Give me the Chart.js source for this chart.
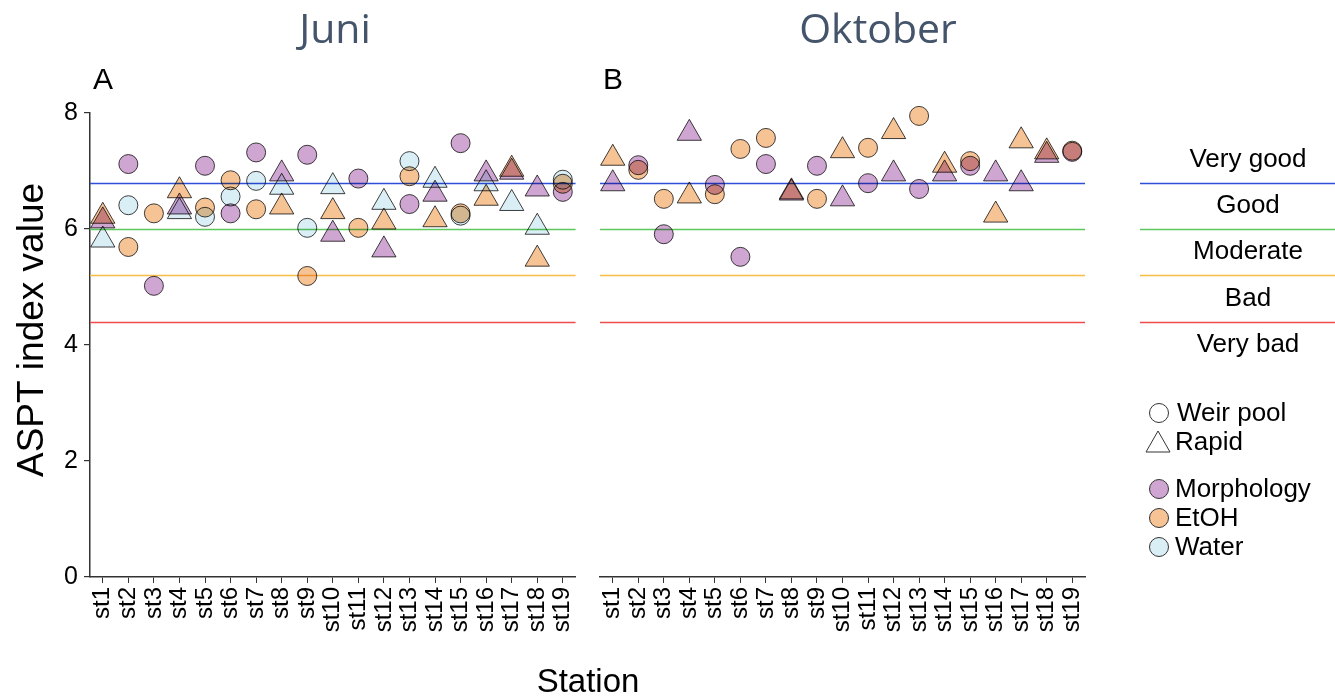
<!DOCTYPE html>
<html>
<head>
<meta charset="utf-8">
<title>ASPT index value per station</title>
<script src="https://cdn.jsdelivr.net/npm/chart.js@4.4.1/dist/chart.umd.min.js"></script>
<style>
  html, body { margin: 0; padding: 0; background: #fff; }
  #wrap { position: relative; width: 1335px; height: 697px; overflow: hidden; }
  #cA { position: absolute; left: 0; top: 0; }
  #cB { position: absolute; left: 585px; top: 0; }
  #station { position: absolute; left: 0; width: 1176px; top: 662px; line-height: 40px;
             text-align: center; font: 33px 'Liberation Sans', Arial, sans-serif; color: #000; }
</style>
</head>
<body>
<div id="wrap">
  <canvas id="cA" width="596" height="697"></canvas>
  <canvas id="cB" width="750" height="697"></canvas>
  <div id="station">Station</div>
</div>
<script>
// Stations along the x axis
const stations = ['st1','st2','st3','st4','st5','st6','st7','st8','st9','st10',
                  'st11','st12','st13','st14','st15','st16','st17','st18','st19'];

// y axis ticks
const yTicks = [0, 2, 4, 6, 8];

// Quality class boundaries and labels
const thresholds = [6.8, 6.0, 5.2, 4.4];
const thresholdColors = ['#2f4fd8', '#5cc85c', '#f7bd45', '#ef4b4b'];
const classLabels = ['Very good', 'Good', 'Moderate', 'Bad', 'Very bad'];
const classLabelValues = [7.2, 6.4, 5.6, 4.8, 4.0];

// Juni – weir pool (circles)
const juniWeirMorph = [null, 7.12, 5.02, null, 7.09, 6.27, 7.32, null, 7.28, null, 6.87, null, 6.43, null, 7.48, null, null, null, 6.64];
const juniWeirEtoh  = [null, 5.69, 6.27, null, 6.37, 6.84, 6.34, null, 5.19, null, 6.02, null, 6.91, null, 6.27, null, null, null, 6.78];
const juniWeirWater = [null, 6.41, null, null, 6.21, 6.56, 6.83, null, 6.02, null, null, null, 7.17, null, 6.23, null, null, null, 6.85];
// Juni – rapid (triangles)
const juniRapidMorph = [6.14, null, null, 6.38, null, null, null, 6.95, null, 5.91, null, 5.64, null, 6.60, null, 6.95, 6.98, 6.69, null];
const juniRapidEtoh  = [6.22, null, null, 6.66, null, null, null, 6.38, null, 6.30, null, 6.12, null, 6.16, null, 6.53, 7.03, 5.48, null];
const juniRapidWater = [5.81, null, null, 6.30, null, null, null, 6.72, null, 6.73, null, 6.46, null, 6.84, null, 6.78, 6.44, 6.03, null];

// Oktober – weir pool (circles)
const oktWeirMorph = [null, 7.10, 5.91, null, 6.76, 5.52, 7.12, null, 7.09, null, 6.79, null, 6.69, null, 7.09, null, null, null, 7.33];
const oktWeirEtoh  = [null, 7.02, 6.52, null, 6.60, 7.38, 7.57, null, 6.52, null, 7.40, null, 7.95, null, 7.17, null, null, null, 7.35];
// Oktober – rapid (triangles)
const oktRapidMorph = [6.78, null, null, 7.65, null, null, null, 6.62, null, 6.52, null, 6.95, null, 6.95, null, 6.95, 6.78, 7.27, null];
const oktRapidEtoh  = [7.22, null, null, 6.57, null, null, null, 6.64, null, 7.35, null, 7.68, null, 7.10, null, 6.24, 7.52, 7.33, null];

const FONT = "'Liberation Sans', Arial, sans-serif";
const TITLE_FONT = "'Open Sans', sans-serif";
const COLORS = { morph: '#cfa5d2', etoh: '#f6c395', water: '#daeef5' };
const EDGE = '#404040';

function series(label, data, color, shape) {
  return {
    label, data,
    showLine: false,
    pointStyle: shape,
    pointRadius: shape === 'triangle' ? 14 : 9.5,
    pointHoverRadius: shape === 'triangle' ? 14 : 9.5,
    pointBackgroundColor: color,
    pointBorderColor: EDGE,
    pointBorderWidth: 1,
    borderColor: EDGE,
    backgroundColor: color,
    clip: false
  };
}

// Threshold lines under the points, multiply blending for overlapping marks,
// and the panel texts / legend on top.
const decor = {
  id: 'decor',
  beforeDatasetsDraw(chart) {
    const { ctx, chartArea: a, scales: { y } } = chart;
    ctx.save();
    thresholds.forEach((v, i) => {
      const py = Math.round(y.getPixelForValue(v)) + 0.5;
      ctx.strokeStyle = thresholdColors[i];
      ctx.lineWidth = 1.5;
      ctx.beginPath();
      ctx.moveTo(a.left, py);
      ctx.lineTo(a.right, py);
      ctx.stroke();
    });
    ctx.restore();
    ctx.save();
    ctx.globalCompositeOperation = 'multiply';
  },
  afterDatasetsDraw(chart) {
    chart.ctx.restore();
  },
  afterDraw(chart, args, opts) {
    const { ctx, chartArea: a, scales: { y } } = chart;
    ctx.save();
    // month title
    ctx.fillStyle = '#44546a';
    ctx.font = '41px ' + TITLE_FONT;
    ctx.textAlign = 'center';
    ctx.textBaseline = 'alphabetic';
    ctx.fillText(opts.title, opts.titleX, 43);
    // panel letter
    ctx.fillStyle = '#000';
    ctx.font = '30px ' + FONT;
    ctx.textAlign = 'left';
    ctx.fillText(opts.letter, a.left + 3, 89);
    // y axis title
    if (opts.yTitle) {
      ctx.save();
      ctx.translate(33, 330);
      ctx.rotate(-Math.PI / 2);
      ctx.textAlign = 'center';
      ctx.textBaseline = 'middle';
      ctx.font = '37px ' + FONT;
      ctx.fillText(opts.yTitle, 0, 0);
      ctx.restore();
    }
    if (opts.legend) {
      const x0 = a.right + 55, x1 = chart.width;
      const cx = a.right + 163;
      thresholds.forEach((v, i) => {
        const py = Math.round(y.getPixelForValue(v)) + 0.5;
        ctx.strokeStyle = thresholdColors[i];
        ctx.lineWidth = 1.3;
        ctx.beginPath();
        ctx.moveTo(x0, py);
        ctx.lineTo(x1, py);
        ctx.stroke();
      });
      ctx.fillStyle = '#000';
      ctx.font = '26px ' + FONT;
      ctx.textAlign = 'center';
      ctx.textBaseline = 'middle';
      classLabels.forEach((t, i) => ctx.fillText(t, cx, y.getPixelForValue(classLabelValues[i])));

      // shape and method keys
      const mx = a.right + 74;
      const tx = a.right + 92;
      ctx.textAlign = 'left';
      ctx.font = '26px ' + FONT;
      ctx.strokeStyle = '#333';
      ctx.lineWidth = 1;
      const circle = (py, fill) => {
        ctx.beginPath();
        ctx.arc(mx, py, 9.5, 0, Math.PI * 2);
        ctx.fillStyle = fill;
        ctx.fill();
        ctx.stroke();
      };
      circle(413, '#fff');
      ctx.fillStyle = '#000';
      ctx.fillText('Weir pool', tx, 414);
      ctx.beginPath();
      ctx.moveTo(mx - 1, 431);
      ctx.lineTo(mx + 11, 452);
      ctx.lineTo(mx - 13, 452);
      ctx.closePath();
      ctx.fillStyle = '#fff';
      ctx.fill();
      ctx.stroke();
      ctx.fillStyle = '#000';
      ctx.fillText('Rapid', tx - 2, 443);
      [['Morphology', COLORS.morph, 489], ['EtOH', COLORS.etoh, 518], ['Water', COLORS.water, 547]]
        .forEach(([t, c, py]) => {
          circle(py, c);
          ctx.fillStyle = '#000';
          ctx.fillText(t, tx - 2, py + 1);
        });
    }
    ctx.restore();
  }
};

function makePanel(canvas, datasets, showY, pad, decorOpts) {
  return new Chart(canvas, {
    type: 'line',
    data: { labels: stations, datasets },
    plugins: [decor],
    options: {
      responsive: false,
      animation: false,
      events: [],
      layout: { padding: pad },
      plugins: { legend: { display: false }, tooltip: { enabled: false }, title: { display: false }, decor: decorOpts },
      scales: {
        x: {
          type: 'category',
          offset: true,
          afterFit(s) { s.height = 120; },
          ticks: { minRotation: 90, maxRotation: 90, autoSkip: false, color: '#000', padding: 4,
                   font: { family: FONT, size: 24 } },
          grid: { drawOnChartArea: false, drawTicks: true, tickLength: 6, color: '#333', lineWidth: 1 },
          border: { display: true, color: '#333', width: 1.5 }
        },
        y: {
          display: showY,
          min: 0, max: 8,
          afterFit(s) { s.width = showY ? 90 : 0; },
          afterBuildTicks(s) { s.ticks = yTicks.map(v => ({ value: v })); },
          ticks: { color: '#000', padding: 6, font: { family: FONT, size: 25 } },
          grid: { drawOnChartArea: false, drawTicks: true, tickLength: 6, color: '#333', lineWidth: 1.2 },
          border: { display: true, color: '#333', width: 1.5 }
        }
      }
    }
  });
}

makePanel(document.getElementById('cA'), [
  series('Weir pool – Morphology', juniWeirMorph, COLORS.morph, 'circle'),
  series('Weir pool – EtOH', juniWeirEtoh, COLORS.etoh, 'circle'),
  series('Weir pool – Water', juniWeirWater, COLORS.water, 'circle'),
  series('Rapid – Morphology', juniRapidMorph, COLORS.morph, 'triangle'),
  series('Rapid – EtOH', juniRapidEtoh, COLORS.etoh, 'triangle'),
  series('Rapid – Water', juniRapidWater, COLORS.water, 'triangle')
], true, { top: 113, right: 0, left: 0, bottom: 0 },
   { title: 'Juni', titleX: 335, letter: 'A', yTitle: 'ASPT index value', legend: false });

makePanel(document.getElementById('cB'), [
  series('Weir pool – Morphology', oktWeirMorph, COLORS.morph, 'circle'),
  series('Weir pool – EtOH', oktWeirEtoh, COLORS.etoh, 'circle'),
  series('Rapid – Morphology', oktRapidMorph, COLORS.morph, 'triangle'),
  series('Rapid – EtOH', oktRapidEtoh, COLORS.etoh, 'triangle')
], false, { top: 113, right: 250, left: 0, bottom: 0 },
   { title: 'Oktober', titleX: 293, letter: 'B', legend: true });
</script>
</body>
</html>
